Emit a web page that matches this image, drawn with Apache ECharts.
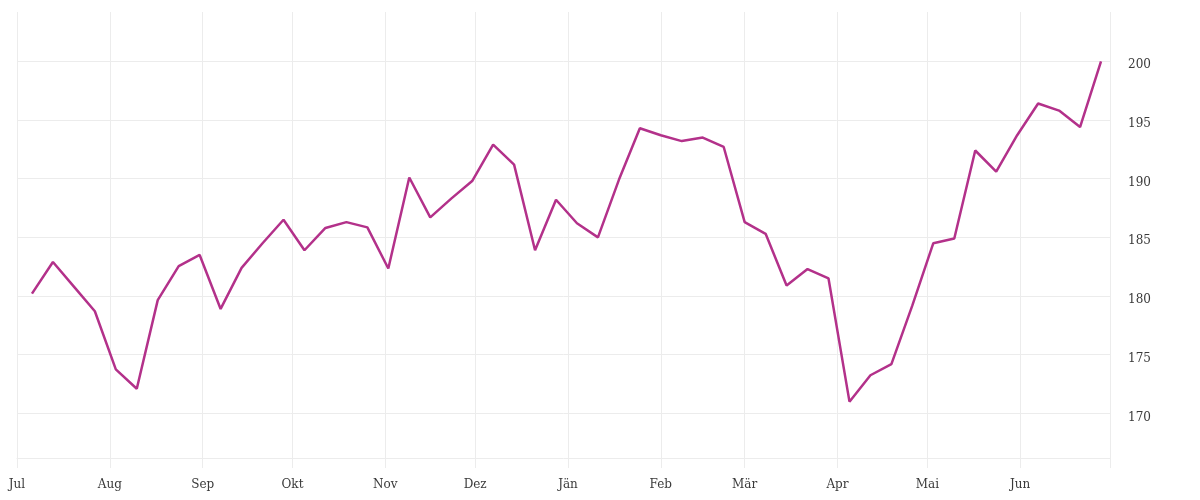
<!DOCTYPE html>
<html>
<head>
<meta charset="utf-8">
<script src="https://cdn.jsdelivr.net/npm/echarts@6/dist/echarts.min.js"></script>
<style>
  html, body { margin: 0; padding: 0; background: #fff; }
  #chart { width: 1200px; height: 500px; }
</style>
</head>
<body>
<div id="chart"></div>
<script>
const dates = [
  '2018-07-06','2018-07-13','2018-07-20','2018-07-27',
  '2018-08-03','2018-08-10','2018-08-17','2018-08-24','2018-08-31',
  '2018-09-07','2018-09-14','2018-09-21','2018-09-28',
  '2018-10-05','2018-10-12','2018-10-19','2018-10-26',
  '2018-11-02','2018-11-09','2018-11-16','2018-11-23','2018-11-30',
  '2018-12-07','2018-12-14','2018-12-21','2018-12-28',
  '2019-01-04','2019-01-11','2019-01-18','2019-01-25',
  '2019-02-01','2019-02-08','2019-02-15','2019-02-22',
  '2019-03-01','2019-03-08','2019-03-15','2019-03-22','2019-03-29',
  '2019-04-05','2019-04-12','2019-04-19','2019-04-26',
  '2019-05-03','2019-05-10','2019-05-17','2019-05-24','2019-05-31',
  '2019-06-07','2019-06-14','2019-06-21','2019-06-28'
];
const values = [
  180.2, 182.9, 180.8, 178.7,
  173.75, 172.1, 179.65, 182.55, 183.5,
  178.9, 182.4, 184.5, 186.5,
  183.9, 185.8, 186.3, 185.85,
  182.35, 190.1, 186.7, 188.3, 189.8,
  192.9, 191.2, 183.9, 188.2,
  186.2, 185.0, 189.9, 194.3,
  193.7, 193.2, 193.5, 192.7,
  186.3, 185.3, 180.9, 182.3, 181.5,
  171.0, 173.25, 174.2, 179.2,
  184.5, 184.9, 192.4, 190.6, 193.7,
  196.4, 195.8, 194.4, 200.0
];
const monthLabels = ['Jän','Feb','Mär','Apr','Mai','Jun','Jul','Aug','Sep','Okt','Nov','Dez'];
const xMin = '2018-07-01';
const xMax = '2019-07-01';
const yMin = 166.2;
const yMax = 204.2;

const gridColor = '#ececec';
const textColor = '#3a3a3a';
const fontFamily = 'DejaVu Serif';

const chart = echarts.init(document.getElementById('chart'));
const maxTime = new Date(xMax + 'T00:00:00').getTime();
chart.setOption({
  animation: false,
  backgroundColor: '#fff',
  grid: { left: 17, right: 90, top: 12, bottom: 42, containLabel: false },
  xAxis: {
    type: 'time',
    min: xMin + 'T00:00:00',
    max: xMax + 'T00:00:00',
    minInterval: 28 * 86400000,
    maxInterval: 31 * 86400000,
    splitNumber: 12,
    axisLine: { show: true, lineStyle: { color: gridColor, width: 1 } },
    axisTick: { show: true, length: 10, lineStyle: { color: gridColor, width: 1 } },
    splitLine: { show: true, lineStyle: { color: gridColor, width: 1 } },
    axisLabel: {
      margin: 21,
      color: textColor,
      fontFamily: fontFamily,
      fontSize: 12,
      hideOverlap: false,
      formatter: function (v) {
        if (v >= maxTime - 86400000) return '';
        return monthLabels[new Date(v).getMonth()];
      }
    }
  },
  yAxis: {
    type: 'value',
    position: 'right',
    min: yMin,
    max: yMax,
    splitNumber: 8,
    axisLine: { show: false },
    axisTick: { show: false },
    splitLine: { show: true, showMinLine: false, showMaxLine: false, lineStyle: { color: gridColor, width: 1 } },
    axisLabel: {
      margin: 18,
      color: textColor,
      fontFamily: fontFamily,
      fontSize: 12,
      verticalAlign: 'top',
      lineHeight: 8,
      showMinLabel: false,
      showMaxLabel: false
    }
  },
  series: [{
    type: 'line',
    data: dates.map((d, i) => [d + 'T00:00:00', values[i]]),
    symbol: 'none',
    lineStyle: { color: '#b3318a', width: 2.5 },
    itemStyle: { color: '#b3318a' }
  }]
});
</script>
</body>
</html>
